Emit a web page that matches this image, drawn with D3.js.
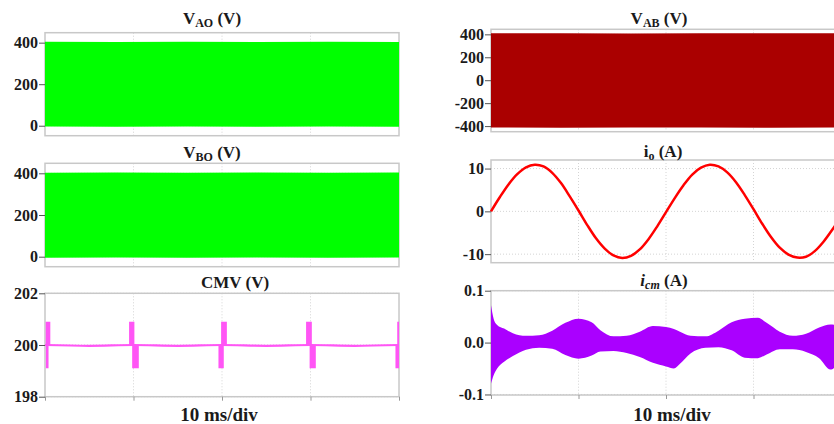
<!DOCTYPE html>
<meta charset="utf-8">
<script src="https://d3js.org/d3.v7.min.js"></script>
<style>
  body { margin: 0; background: #fff; }
  text { font-family: "Liberation Serif", "Times New Roman", serif; font-weight: bold; fill: #1a1a1a; }
</style>
<div id="my_dataviz"></div>
<script>

// ---- data (time in ms) ----
var timeTicks = [0, 10, 20, 30, 40];

// V_AO / V_BO : PWM switching, drawn as envelope
var vaoT  = [0, 8, 16, 24, 32, 40];
var vaoHi = [404, 403, 405, 403, 404, 403];
var vaoLo = [-4, -5, -4, -5, -4, -5];
var vboHi = [403, 404, 403, 404, 403, 404];
var vboLo = [-5, -4, -5, -4, -5, -4];

// CMV : flat 200 V with switching spikes
var cmvT = [0, 5, 10, 15, 20, 25, 30, 35, 40];
var cmvV = [200, 199.97, 200, 199.97, 200, 199.97, 200, 199.97, 200];
var cmvSpikeUp = [[0.08, 0.6], [9.5, 10.1], [19.9, 20.55], [29.5, 30.15], [39.8, 40]];
var cmvSpikeDn = [[0.1, 0.4], [9.85, 10.6], [19.6, 20.2], [29.9, 30.6], [39.6, 40]];
var cmvSpikeTop = 200.9, cmvSpikeBottom = 199.1;

// V_AB : line voltage envelope
var vabT  = [0, 8, 16, 24, 32, 40];
var vabHi = [409, 410, 408, 410, 409, 410];
var vabLo = [-412, -414, -412, -413, -414, -412];

// i_o : load current
var ioT = [0,1,2,3,4,5,6,7,8,9,10,11,12,13,14,15,16,17,18,19,20,
           21,22,23,24,25,26,27,28,29,30,31,32,33,34,35,36,37,38,39,40];
var ioV = [0, 3.3, 6.3, 8.7, 10.3, 10.9, 10.5, 9.0, 6.6, 3.5, 0.2,
           -3.2, -6.3, -8.7, -10.3, -10.9, -10.4, -8.9, -6.5, -3.5, -0.2,
           3.1, 6.1, 8.6, 10.2, 10.9, 10.5, 9.1, 6.8, 3.8, 0.5,
           -2.9, -6.0, -8.5, -10.1, -10.8, -10.6, -9.3, -7.1, -4.3, -1.2];

// i_cm : common-mode current envelope
var icmT  = [0, 0.3, 0.7, 1.5, 2.5, 4, 5.5, 7, 8.5, 10, 11.5, 12.5, 14, 15.5, 17, 18.5, 20,
             20.9, 21.6, 22.8, 24.5, 26, 27.5, 29, 30.5, 31.5, 33, 34.5, 36, 37.5, 38.8, 39.5, 40];
var icmHi = [0.072, 0.046, 0.034, 0.027, 0.018, 0.013, 0.014, 0.023, 0.038, 0.046, 0.039, 0.024,
             0.012, 0.013, 0.021, 0.032, 0.030, 0.026, 0.021, 0.013, 0.012, 0.023, 0.039, 0.046,
             0.048, 0.038, 0.021, 0.013, 0.017, 0.029, 0.035, 0.034, 0.033];
var icmLo = [-0.079, -0.063, -0.050, -0.037, -0.026, -0.014, -0.010, -0.012, -0.024, -0.031,
             -0.025, -0.017, -0.016, -0.020, -0.028, -0.039, -0.046, -0.050, -0.041, -0.021,
             -0.010, -0.009, -0.015, -0.029, -0.030, -0.023, -0.013, -0.013, -0.018, -0.030,
             -0.052, -0.045, -0.040];

// ---- svg ----
var W = 834, H = 424;
var svg = d3.select("#my_dataviz").append("svg")
    .attr("width", W).attr("height", H);

var fmt = function(d) { return String(d); };

function panel(p) {
  var x = d3.scaleLinear().domain([0, 40]).range([p.x0, p.x1]);
  var y = d3.scaleLinear().domain(p.dom).range([p.y1, p.y0]);
  var g = svg.append("g");

  // dotted grid
  g.selectAll(".vg").data([10, 20, 30]).enter().append("line")
    .attr("x1", function(d) { return x(d); }).attr("x2", function(d) { return x(d); })
    .attr("y1", p.y0).attr("y2", p.y1)
    .attr("stroke", "#d4d4d4").attr("stroke-dasharray", "1,2");
  g.selectAll(".hg").data(p.ticks).enter().append("line")
    .attr("x1", p.x0).attr("x2", p.x1)
    .attr("y1", function(d) { return y(d); }).attr("y2", function(d) { return y(d); })
    .attr("stroke", "#d4d4d4").attr("stroke-dasharray", "1,2");

  // frame
  g.append("rect").attr("x", p.x0).attr("y", p.y0)
    .attr("width", p.x1 - p.x0).attr("height", p.y1 - p.y0)
    .attr("fill", "none").attr("stroke", "#c8c8c8").attr("stroke-width", 1.5);

  p.draw(g, x, y);

  // y axis
  var ax = g.append("g").attr("transform", "translate(" + p.x0 + ",0)")
    .call(d3.axisLeft(y).tickValues(p.ticks).tickFormat(p.fmt || fmt).tickSize(6).tickPadding(1));
  ax.select(".domain").remove();
  ax.selectAll(".tick line").attr("stroke", "#555");
  ax.selectAll(".tick text").style("font-size", "16px").attr("fill", "#1a1a1a");

  // bottom ticks
  if (p.xticks) {
    var bx = g.append("g").attr("transform", "translate(0," + p.y1 + ")")
      .call(d3.axisBottom(x).tickValues(timeTicks).tickFormat("").tickSize(4));
    bx.select(".domain").remove();
    bx.selectAll(".tick line").attr("stroke", "#999");
    svg.append("text").attr("x", (p.x0 + p.x1) / 2 + (p.xlabDx || 0)).attr("y", 421)
      .attr("text-anchor", "middle").style("font-size", "19px").text("10 ms/div");
  }

  // title
  var t = svg.append("text").attr("x", p.tx).attr("y", p.ty)
    .attr("text-anchor", "middle").style("font-size", "17px");
  p.title(t);
}

function envelope(T, hi, lo, color, curve) {
  return function(g, x, y) {
    var rows = T.map(function(t, i) { return {t: t, hi: hi[i], lo: lo[i]}; });
    g.append("path").datum(rows)
      .attr("fill", color)
      .attr("d", d3.area().curve(curve || d3.curveLinear)
        .x(function(d) { return x(d.t); })
        .y0(function(d) { return y(d.lo); })
        .y1(function(d) { return y(d.hi); }));
  };
}

function sub(t, main, s, rest, italic) {
  t.append("tspan").text(main).style("font-style", italic ? "italic" : null);
  t.append("tspan").attr("dy", 3).style("font-size", "12px")
    .style("font-style", italic ? "italic" : null).text(s);
  t.append("tspan").attr("dy", -3).text(rest);
}

var L = {x0: 45, x1: 399}, R = {x0: 491, x1: 841};

panel({x0: L.x0, x1: L.x1, y0: 32.7, y1: 135.7, dom: [-48, 448], ticks: [0, 200, 400],
  tx: 212, ty: 24, title: function(t) { sub(t, "V", "AO", " (V)"); },
  draw: envelope(vaoT, vaoHi, vaoLo, "#00ff00")});

panel({x0: L.x0, x1: L.x1, y0: 163.3, y1: 266.7, dom: [-48, 448], ticks: [0, 200, 400],
  tx: 212, ty: 158, title: function(t) { sub(t, "V", "BO", " (V)"); },
  draw: envelope(vaoT, vboHi, vboLo, "#00ff00")});

panel({x0: L.x0, x1: L.x1, y0: 293.3, y1: 396.7, dom: [198, 202], ticks: [198, 200, 202],
  tx: 235, ty: 288, xticks: true, xlabDx: -3, title: function(t) { t.text("CMV (V)"); },
  draw: function(g, x, y) {
    var c = "#ff55f5";
    var rows = cmvT.map(function(t, i) { return {t: t, v: cmvV[i]}; });
    g.append("path").datum(rows).attr("fill", "none").attr("stroke", c).attr("stroke-width", 2.2)
      .attr("d", d3.line().curve(d3.curveMonotoneX)
        .x(function(d) { return x(d.t); }).y(function(d) { return y(d.v); }));
    g.selectAll(".su").data(cmvSpikeUp).enter().append("rect").attr("fill", c)
      .attr("x", function(d) { return x(d[0]); })
      .attr("width", function(d) { return x(d[1]) - x(d[0]); })
      .attr("y", y(cmvSpikeTop)).attr("height", y(200) - y(cmvSpikeTop));
    g.selectAll(".sd").data(cmvSpikeDn).enter().append("rect").attr("fill", c)
      .attr("x", function(d) { return x(d[0]); })
      .attr("width", function(d) { return x(d[1]) - x(d[0]); })
      .attr("y", y(200)).attr("height", y(cmvSpikeBottom) - y(200));
  }});

panel({x0: R.x0, x1: R.x1, y0: 29.3, y1: 131.7, dom: [-449, 444], ticks: [-400, -200, 0, 200, 400],
  tx: 659, ty: 24, title: function(t) { sub(t, "V", "AB", " (V)"); },
  draw: envelope(vabT, vabHi, vabLo, "#aa0000")});

panel({x0: R.x0, x1: R.x1, y0: 160, y1: 262.7, dom: [-12, 12], ticks: [-10, 0, 10],
  tx: 663, ty: 157, title: function(t) { sub(t, "i", "o", " (A)"); },
  draw: function(g, x, y) {
    var rows = ioT.map(function(t, i) { return {t: t, v: ioV[i]}; });
    g.append("path").datum(rows).attr("fill", "none").attr("stroke", "#ff0000")
      .attr("stroke-width", 2.5)
      .attr("d", d3.line().curve(d3.curveCatmullRom)
        .x(function(d) { return x(d.t); }).y(function(d) { return y(d.v); }));
  }});

panel({x0: R.x0, x1: R.x1, y0: 290.7, y1: 395, dom: [-0.101, 0.1], ticks: [-0.1, 0, 0.1],
  tx: 664, ty: 286, xticks: true, xlabDx: 6,
  fmt: function(d) { return d.toFixed(1); },
  title: function(t) { sub(t, "i", "cm", " (A)", true); },
  draw: envelope(icmT, icmHi, icmLo, "#aa00ff", d3.curveMonotoneX)});

</script>
